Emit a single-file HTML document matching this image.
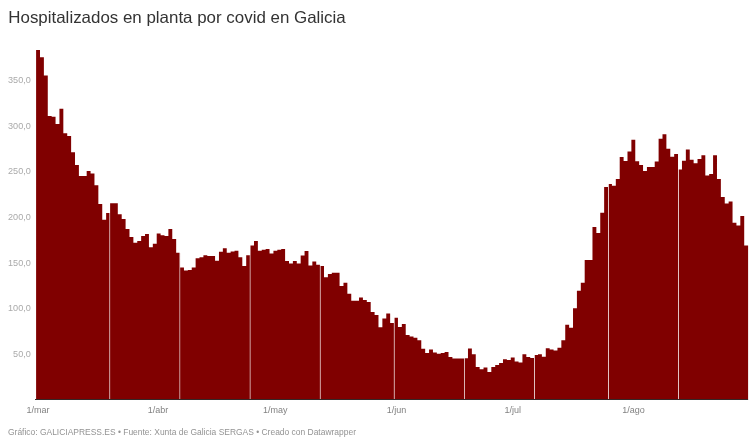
<!DOCTYPE html>
<html lang="es"><head><meta charset="utf-8"><title>Hospitalizados en planta por covid en Galicia</title>
<style>
html,body{margin:0;padding:0;background:#fff;}
body{width:756px;height:447px;overflow:hidden;position:relative;font-family:"Liberation Sans",Arial,sans-serif;}
h1{position:absolute;left:8.3px;top:8.2px;margin:0;font-size:16.92px;font-weight:400;color:#333;line-height:20px;white-space:nowrap;letter-spacing:0;}
svg{position:absolute;left:0;top:0;}
.yl{font-size:9.1px;fill:#aaa;font-family:"Liberation Sans",Arial,sans-serif;}
.xl{font-size:9px;fill:#828282;font-family:"Liberation Sans",Arial,sans-serif;}
.ft{position:absolute;left:8px;top:427.2px;margin:0;font-size:8.46px;color:#939393;line-height:11px;white-space:nowrap;}
</style></head><body>
<h1>Hospitalizados en planta por covid en Galicia</h1>
<svg width="756" height="447" viewBox="0 0 756 447">
<path d="M36.10,399.4L36.10,50.1L39.99,50.1L39.99,57.3L43.88,57.3L43.88,75.6L47.77,75.6L47.77,115.9L51.66,115.9L51.66,116.8L55.55,116.8L55.55,124.0L59.44,124.0L59.44,108.7L63.33,108.7L63.33,133.2L67.23,133.2L67.23,135.9L71.12,135.9L71.12,152.2L75.01,152.2L75.01,165.0L78.90,165.0L78.90,175.9L82.79,175.9L82.79,175.9L86.68,175.9L86.68,170.9L90.57,170.9L90.57,173.4L94.46,173.4L94.46,185.2L98.35,185.2L98.35,204.1L102.24,204.1L102.24,219.7L106.13,219.7L106.13,213.0L110.02,213.0L110.02,203.3L113.91,203.3L113.91,203.3L117.80,203.3L117.80,214.2L121.70,214.2L121.70,218.9L125.59,218.9L125.59,229.0L129.48,229.0L129.48,236.9L133.37,236.9L133.37,242.8L137.26,242.8L137.26,241.1L141.15,241.1L141.15,236.1L145.04,236.1L145.04,234.0L148.93,234.0L148.93,247.3L152.82,247.3L152.82,243.7L156.71,243.7L156.71,233.6L160.60,233.6L160.60,235.3L164.49,235.3L164.49,236.1L168.38,236.1L168.38,228.9L172.27,228.9L172.27,238.9L176.17,238.9L176.17,252.8L180.06,252.8L180.06,267.4L183.95,267.4L183.95,270.6L187.84,270.6L187.84,270.0L191.73,270.0L191.73,267.4L195.62,267.4L195.62,258.3L199.51,258.3L199.51,257.3L203.40,257.3L203.40,255.3L207.29,255.3L207.29,256.1L211.18,256.1L211.18,256.1L215.07,256.1L215.07,260.8L218.96,260.8L218.96,251.7L222.85,251.7L222.85,248.3L226.74,248.3L226.74,252.7L230.63,252.7L230.63,251.5L234.53,251.5L234.53,250.7L238.42,250.7L238.42,257.2L242.31,257.2L242.31,266.1L246.20,266.1L246.20,255.2L250.09,255.2L250.09,245.5L253.98,245.5L253.98,240.9L257.87,240.9L257.87,250.7L261.76,250.7L261.76,249.8L265.65,249.8L265.65,249.0L269.54,249.0L269.54,253.5L273.43,253.5L273.43,250.7L277.32,250.7L277.32,249.8L281.21,249.8L281.21,249.1L285.10,249.1L285.10,260.9L289.00,260.9L289.00,263.5L292.89,263.5L292.89,260.9L296.78,260.9L296.78,263.5L300.67,263.5L300.67,255.4L304.56,255.4L304.56,250.9L308.45,250.9L308.45,265.5L312.34,265.5L312.34,261.5L316.23,261.5L316.23,264.8L320.12,264.8L320.12,266.0L324.01,266.0L324.01,277.2L327.90,277.2L327.90,274.1L331.79,274.1L331.79,272.7L335.68,272.7L335.68,272.7L339.57,272.7L339.57,286.1L343.47,286.1L343.47,282.8L347.36,282.8L347.36,293.7L351.25,293.7L351.25,300.7L355.14,300.7L355.14,300.7L359.03,300.7L359.03,297.4L362.92,297.4L362.92,300.0L366.81,300.0L366.81,302.0L370.70,302.0L370.70,312.1L374.59,312.1L374.59,315.1L378.48,315.1L378.48,327.2L382.37,327.2L382.37,318.5L386.26,318.5L386.26,313.6L390.15,313.6L390.15,323.0L394.04,323.0L394.04,317.7L397.94,317.7L397.94,326.9L401.83,326.9L401.83,323.9L405.72,323.9L405.72,334.9L409.61,334.9L409.61,336.6L413.50,336.6L413.50,337.8L417.39,337.8L417.39,340.3L421.28,340.3L421.28,348.7L425.17,348.7L425.17,352.9L429.06,352.9L429.06,349.5L432.95,349.5L432.95,352.4L436.84,352.4L436.84,353.7L440.73,353.7L440.73,352.9L444.62,352.9L444.62,352.0L448.51,352.0L448.51,357.0L452.40,357.0L452.40,358.4L456.30,358.4L456.30,358.4L460.19,358.4L460.19,358.4L464.08,358.4L464.08,358.2L467.97,358.2L467.97,348.5L471.86,348.5L471.86,354.2L475.75,354.2L475.75,367.1L479.64,367.1L479.64,369.2L483.53,369.2L483.53,367.4L487.42,367.4L487.42,372.1L491.31,372.1L491.31,367.1L495.20,367.1L495.20,364.9L499.09,364.9L499.09,362.9L502.98,362.9L502.98,359.2L506.87,359.2L506.87,360.0L510.77,360.0L510.77,357.5L514.66,357.5L514.66,361.5L518.55,361.5L518.55,362.4L522.44,362.4L522.44,354.2L526.33,354.2L526.33,357.0L530.22,357.0L530.22,357.9L534.11,357.9L534.11,355.0L538.00,355.0L538.00,354.2L541.89,354.2L541.89,356.7L545.78,356.7L545.78,348.3L549.67,348.3L549.67,349.5L553.56,349.5L553.56,350.6L557.45,350.6L557.45,347.8L561.34,347.8L561.34,340.2L565.24,340.2L565.24,324.8L569.13,324.8L569.13,327.7L573.02,327.7L573.02,308.2L576.91,308.2L576.91,290.8L580.80,290.8L580.80,282.8L584.69,282.8L584.69,260.1L588.58,260.1L588.58,260.1L592.47,260.1L592.47,227.0L596.36,227.0L596.36,232.9L600.25,232.9L600.25,212.7L604.14,212.7L604.14,187.0L608.03,187.0L608.03,184.1L611.92,184.1L611.92,185.8L615.81,185.8L615.81,179.0L619.71,179.0L619.71,156.9L623.60,156.9L623.60,161.1L627.49,161.1L627.49,151.5L631.38,151.5L631.38,139.8L635.27,139.8L635.27,161.2L639.16,161.2L639.16,164.9L643.05,164.9L643.05,171.1L646.94,171.1L646.94,166.9L650.83,166.9L650.83,166.9L654.72,166.9L654.72,161.4L658.61,161.4L658.61,138.8L662.50,138.8L662.50,134.2L666.39,134.2L666.39,148.8L670.28,148.8L670.28,156.8L674.17,156.8L674.17,154.0L678.07,154.0L678.07,169.4L681.96,169.4L681.96,160.7L685.85,160.7L685.85,149.6L689.74,149.6L689.74,159.7L693.63,159.7L693.63,163.2L697.52,163.2L697.52,158.9L701.41,158.9L701.41,155.2L705.30,155.2L705.30,175.6L709.19,175.6L709.19,174.0L713.08,174.0L713.08,155.2L716.97,155.2L716.97,179.0L720.86,179.0L720.86,197.0L724.75,197.0L724.75,203.4L728.64,203.4L728.64,201.5L732.54,201.5L732.54,222.8L736.43,222.8L736.43,225.6L740.32,225.6L740.32,216.1L744.21,216.1L744.21,245.4L748.10,245.4L748.10,399.4Z" fill="#800000"/>
<rect x="109" y="40" width="1" height="359" fill="#fff" fill-opacity="0.55"/><rect x="110" y="40" width="1" height="359" fill="#fff" fill-opacity="0.1"/><rect x="179" y="40" width="1" height="359" fill="#fff" fill-opacity="0.45"/><rect x="180" y="40" width="1" height="359" fill="#fff" fill-opacity="0.15"/><rect x="249" y="40" width="1" height="359" fill="#fff" fill-opacity="0.2"/><rect x="250" y="40" width="1" height="359" fill="#fff" fill-opacity="0.42"/><rect x="319" y="40" width="1" height="359" fill="#fff" fill-opacity="0.1"/><rect x="320" y="40" width="1" height="359" fill="#fff" fill-opacity="0.55"/><rect x="393" y="40" width="1" height="359" fill="#fff" fill-opacity="0.12"/><rect x="394" y="40" width="1" height="359" fill="#fff" fill-opacity="0.55"/><rect x="464" y="40" width="1" height="359" fill="#fff" fill-opacity="0.7"/><rect x="534" y="40" width="1" height="359" fill="#fff" fill-opacity="0.75"/><rect x="608" y="40" width="1" height="359" fill="#fff" fill-opacity="0.77"/><rect x="678" y="40" width="1" height="359" fill="#fff" fill-opacity="0.77"/>
<rect x="35" y="399" width="713.1" height="1" fill="#352828"/>
<text x="30.8" y="82.9" class="yl" text-anchor="end">350,0</text><text x="30.8" y="128.6" class="yl" text-anchor="end">300,0</text><text x="30.8" y="174.2" class="yl" text-anchor="end">250,0</text><text x="30.8" y="219.9" class="yl" text-anchor="end">200,0</text><text x="30.8" y="265.5" class="yl" text-anchor="end">150,0</text><text x="30.8" y="311.1" class="yl" text-anchor="end">100,0</text><text x="30.8" y="356.8" class="yl" text-anchor="end">50,0</text>
<text x="37.9" y="413.2" class="xl" text-anchor="middle">1/mar</text><text x="157.9" y="413.2" class="xl" text-anchor="middle">1/abr</text><text x="275.3" y="413.2" class="xl" text-anchor="middle">1/may</text><text x="396.4" y="413.2" class="xl" text-anchor="middle">1/jun</text><text x="512.7" y="413.2" class="xl" text-anchor="middle">1/jul</text><text x="633.6" y="413.2" class="xl" text-anchor="middle">1/ago</text>
</svg>
<p class="ft">Gráfico: GALICIAPRESS.ES • Fuente: Xunta de Galicia SERGAS • Creado con Datawrapper</p>
</body></html>
